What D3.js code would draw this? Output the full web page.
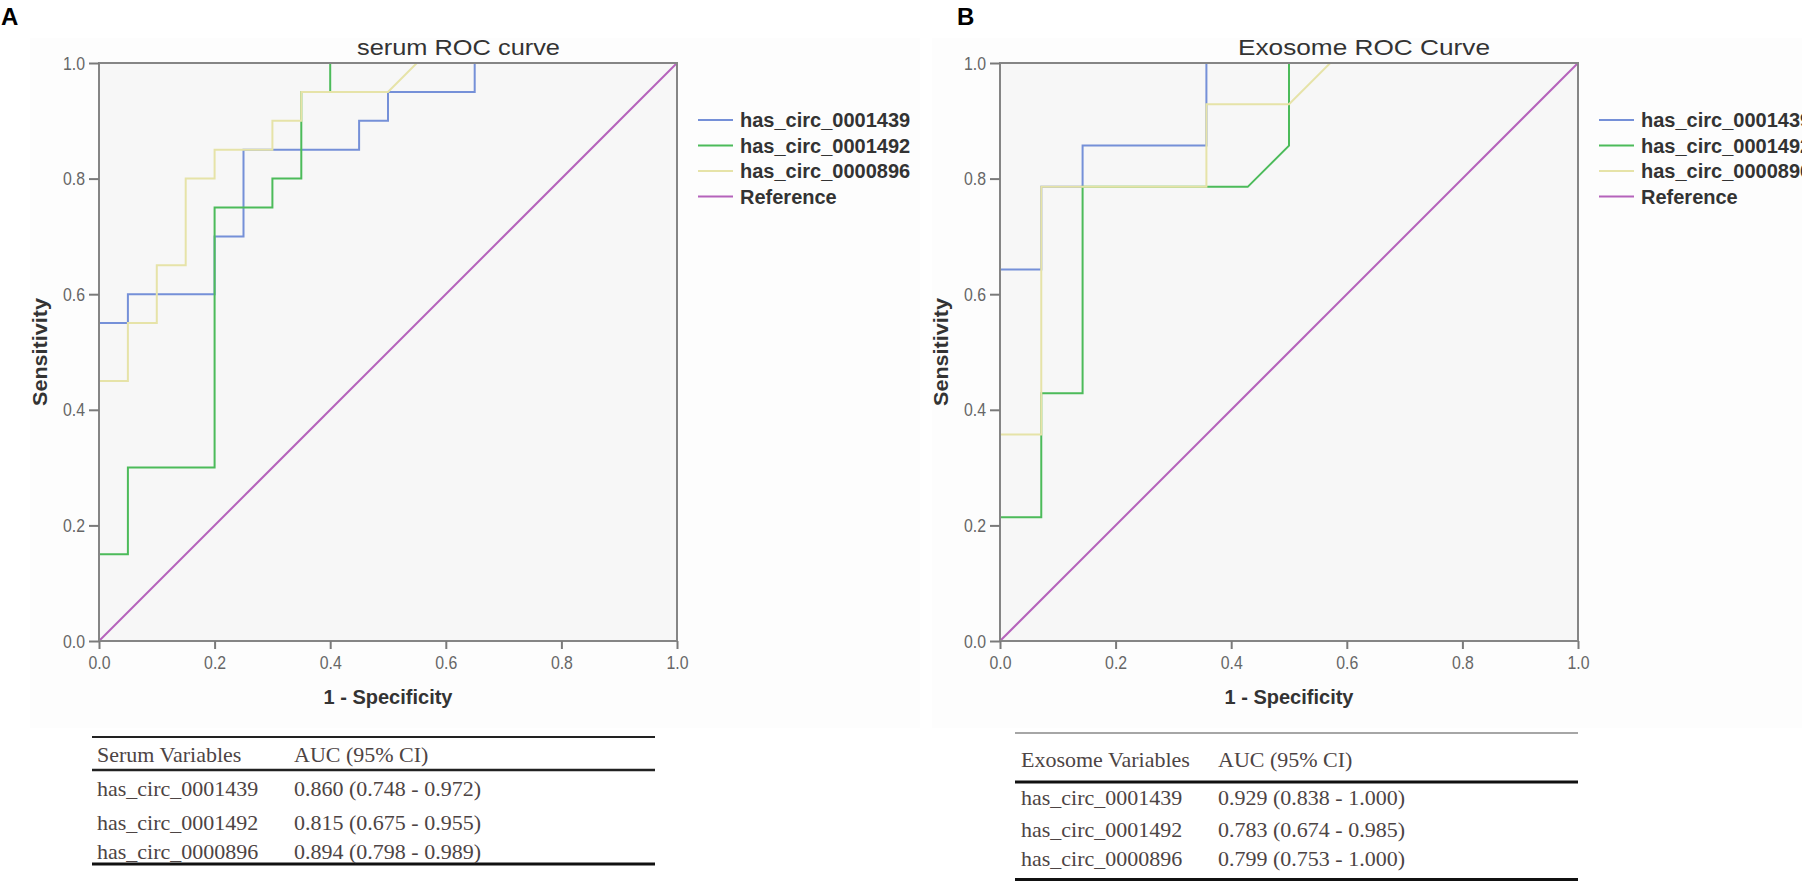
<!DOCTYPE html>
<html>
<head>
<meta charset="utf-8">
<script src="https://d3js.org/d3.v7.min.js"></script>
<style>
    body { margin: 0; background: #ffffff; }
    svg { display: block; }
</style>
</head>
<body>
<svg id="chart" width="1802" height="881"></svg>
<script>
    // ROC steps (x = 1 - specificity, y = sensitivity)
    const seriesNames = ["has_circ_0001439", "has_circ_0001492", "has_circ_0000896", "Reference"];
    const seriesColors = ["#7590d8", "#4cbb5a", "#e6e3a8", "#b563bb"];

    const serum1439X = [0, 0, 0.05, 0.05, 0.2, 0.2, 0.25, 0.25, 0.45, 0.45, 0.5, 0.5, 0.65, 0.65, 1];
    const serum1439Y = [0, 0.55, 0.55, 0.6, 0.6, 0.7, 0.7, 0.85, 0.85, 0.9, 0.9, 0.95, 0.95, 1, 1];
    const serum1492X = [0, 0, 0.05, 0.05, 0.2, 0.2, 0.3, 0.3, 0.35, 0.35, 0.4, 0.4, 1];
    const serum1492Y = [0, 0.15, 0.15, 0.3, 0.3, 0.75, 0.75, 0.8, 0.8, 0.95, 0.95, 1, 1];
    const serum0896X = [0, 0, 0.05, 0.05, 0.1, 0.1, 0.15, 0.15, 0.2, 0.2, 0.3, 0.3, 0.35, 0.35, 0.5, 0.55, 1];
    const serum0896Y = [0, 0.45, 0.45, 0.55, 0.55, 0.65, 0.65, 0.8, 0.8, 0.85, 0.85, 0.9, 0.9, 0.95, 0.95, 1, 1];

    const exo1439X = [0, 0, 0.0714, 0.0714, 0.1429, 0.1429, 0.3571, 0.3571, 1];
    const exo1439Y = [0, 0.6429, 0.6429, 0.7857, 0.7857, 0.8571, 0.8571, 1, 1];
    const exo1492X = [0, 0, 0.0714, 0.0714, 0.1429, 0.1429, 0.4286, 0.5, 0.5, 1];
    const exo1492Y = [0, 0.2143, 0.2143, 0.4286, 0.4286, 0.7857, 0.7857, 0.8571, 1, 1];
    const exo0896X = [0, 0, 0.0714, 0.0714, 0.3571, 0.3571, 0.5, 0.5714, 1];
    const exo0896Y = [0, 0.3571, 0.3571, 0.7857, 0.7857, 0.9286, 0.9286, 1, 1];

    const referenceX = [0, 1];
    const referenceY = [0, 1];

    const tickValues = [0, 0.2, 0.4, 0.6, 0.8, 1.0];

    // AUC tables
    const tableVariables = ["has_circ_0001439", "has_circ_0001492", "has_circ_0000896"];
    const serumAUC = ["0.860 (0.748 - 0.972)", "0.815 (0.675 - 0.955)", "0.894 (0.798 - 0.989)"];
    const exosomeAUC = ["0.929 (0.838 - 1.000)", "0.783 (0.674 - 0.985)", "0.799 (0.753 - 1.000)"];

    const svg = d3.select("#chart");
    const sans = "'Liberation Sans', Arial, sans-serif";
    const serif = "'Liberation Serif', 'Times New Roman', serif";

    function zip(xs, ys) { return xs.map((v, i) => [v, ys[i]]); }

    const panels = [
        {
            letter: "A", letterX: 1, title: "serum ROC curve", titleX: 357, titleLen: 203,
            left: 99, chartBg: [30, 920],
            curves: [zip(serum1439X, serum1439Y), zip(serum1492X, serum1492Y), zip(serum0896X, serum0896Y)]
        },
        {
            letter: "B", letterX: 957, title: "Exosome ROC Curve", titleX: 1238, titleLen: 252,
            left: 1000, chartBg: [932, 1802],
            curves: [zip(exo1439X, exo1439Y), zip(exo1492X, exo1492Y), zip(exo0896X, exo0896Y)]
        }
    ];

    const plotTop = 63, plotSize = 578;

    panels.forEach(function (p) {
        const g = svg.append("g");

        // faint chart-area background
        g.append("rect")
            .attr("x", p.chartBg[0]).attr("y", 38)
            .attr("width", p.chartBg[1] - p.chartBg[0]).attr("height", 690)
            .attr("fill", "#fdfdfd");

        const x = d3.scaleLinear().domain([0, 1]).range([p.left, p.left + plotSize]);
        const y = d3.scaleLinear().domain([0, 1]).range([plotTop + plotSize, plotTop]);

        // plot background
        g.append("rect")
            .attr("x", x(0)).attr("y", y(1))
            .attr("width", plotSize).attr("height", plotSize)
            .attr("fill", "#f7f7f7");

        // curves
        const line = d3.line().x(d => x(d[0])).y(d => y(d[1]));
        p.curves.forEach(function (c, i) {
            g.append("path")
                .datum(c)
                .attr("d", line)
                .attr("fill", "none")
                .attr("stroke", seriesColors[i])
                .attr("stroke-width", 2);
        });
        g.append("path")
            .datum(zip(referenceX, referenceY))
            .attr("d", line)
            .attr("fill", "none")
            .attr("stroke", seriesColors[3])
            .attr("stroke-width", 2);

        // frame
        g.append("rect")
            .attr("x", x(0)).attr("y", y(1))
            .attr("width", plotSize).attr("height", plotSize)
            .attr("fill", "none")
            .attr("stroke", "#858585")
            .attr("stroke-width", 2);

        // axes
        const yAxis = g.append("g")
            .attr("transform", `translate(${x(0)},0)`)
            .call(d3.axisLeft(y).tickValues(tickValues).tickFormat(d3.format(".1f")).tickSize(10).tickPadding(4));
        const xAxis = g.append("g")
            .attr("transform", `translate(0,${y(0)})`)
            .call(d3.axisBottom(x).tickValues(tickValues).tickFormat(d3.format(".1f")).tickSize(8).tickPadding(7));

        [yAxis, xAxis].forEach(function (a) {
            a.select(".domain").remove();
            a.selectAll(".tick line").attr("stroke", "#7a7a7a").attr("stroke-width", 2);
            a.selectAll(".tick text")
                .attr("fill", "#666666")
                .style("font-family", sans)
                .style("font-size", "19px")
                .attr("textLength", 22)
                .attr("lengthAdjust", "spacingAndGlyphs");
        });

        // axis titles
        g.append("text")
            .attr("x", x(0.5)).attr("y", 704)
            .attr("text-anchor", "middle")
            .style("font-family", sans).style("font-size", "20px").style("font-weight", "bold")
            .attr("fill", "#333333")
            .text("1 - Specificity");

        g.append("text")
            .attr("transform", `translate(${p.left - 52},${y(0.5)}) rotate(-90)`)
            .attr("text-anchor", "middle")
            .style("font-family", sans).style("font-size", "20px").style("font-weight", "bold")
            .attr("fill", "#333333")
            .attr("textLength", 108).attr("lengthAdjust", "spacingAndGlyphs")
            .text("Sensitivity");

        // chart title
        g.append("text")
            .attr("x", p.titleX).attr("y", 55)
            .style("font-family", sans).style("font-size", "22px")
            .attr("fill", "#333333")
            .attr("textLength", p.titleLen).attr("lengthAdjust", "spacingAndGlyphs")
            .text(p.title);

        // panel letter
        g.append("text")
            .attr("x", p.letterX).attr("y", 25)
            .style("font-family", sans).style("font-size", "24px").style("font-weight", "bold")
            .attr("fill", "#000000")
            .text(p.letter);

        // legend
        const lg = g.append("g").attr("transform", `translate(${x(1) + 21},0)`);
        const legendY = [120, 145.5, 171, 196.5];
        seriesNames.forEach(function (name, i) {
            lg.append("line")
                .attr("x1", 0).attr("x2", 35)
                .attr("y1", legendY[i]).attr("y2", legendY[i])
                .attr("stroke", seriesColors[i]).attr("stroke-width", 2);
            lg.append("text")
                .attr("x", 42).attr("y", legendY[i] + 7)
                .style("font-family", sans).style("font-size", "20px").style("font-weight", "bold")
                .attr("fill", "#333333")
                .text(name);
        });
    });

    // AUC tables
    function drawTable(cfg) {
        const g = svg.append("g");
        const textColor = "#4d4444";
        cfg.rules.forEach(function (r) {
            g.append("line")
                .attr("x1", cfg.x0).attr("x2", cfg.x1)
                .attr("y1", r.y).attr("y2", r.y)
                .attr("stroke", r.color).attr("stroke-width", r.w);
        });
        const rows = [[cfg.header, "AUC (95% CI)"]].concat(tableVariables.map((v, i) => [v, cfg.values[i]]));
        rows.forEach(function (row, i) {
            g.append("text")
                .attr("x", cfg.col1).attr("y", cfg.baselines[i])
                .style("font-family", serif).style("font-size", "22px")
                .attr("fill", textColor)
                .text(row[0]);
            g.append("text")
                .attr("x", cfg.col2).attr("y", cfg.baselines[i])
                .style("font-family", serif).style("font-size", "22px")
                .attr("fill", textColor)
                .text(row[1]);
        });
    }

    drawTable({
        header: "Serum Variables", values: serumAUC,
        x0: 92, x1: 655, col1: 97, col2: 294,
        baselines: [762, 796, 830, 859],
        rules: [{ y: 737, w: 2, color: "#222" }, { y: 770, w: 2.5, color: "#222" }, { y: 864, w: 3, color: "#111" }]
    });

    drawTable({
        header: "Exosome Variables", values: exosomeAUC,
        x0: 1015, x1: 1578, col1: 1021, col2: 1218,
        baselines: [767, 805, 837, 866],
        rules: [{ y: 733, w: 1.5, color: "#888" }, { y: 782, w: 3, color: "#111" }, { y: 879.5, w: 3, color: "#111" }]
    });
</script>
</body>
</html>
